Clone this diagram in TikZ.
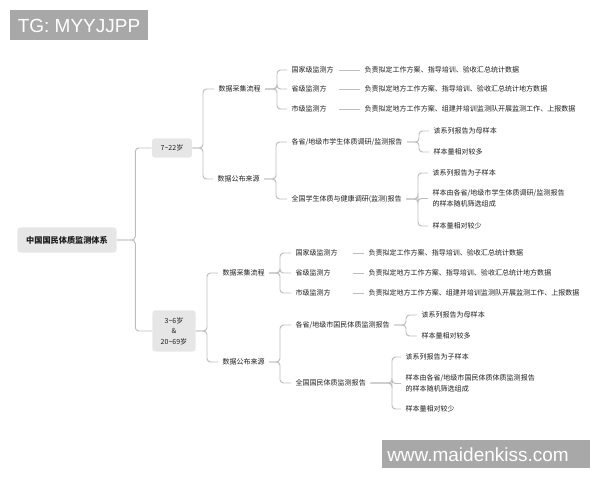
\documentclass[tikz,border=0pt]{standalone}
\usepackage{fontspec}
\setmainfont{Noto Sans CJK SC}
\newfontfamily\markfont{Liberation Sans}
\definecolor{linegray}{HTML}{BDBDBD}
\definecolor{boxgray}{HTML}{E6E6E6}
\definecolor{textgray}{HTML}{1E1E1E}
\definecolor{markgray}{HTML}{A8A8A8}
\tikzset{
  link/.style={draw=linegray,line width=0.7pt,rounded corners=2.5pt},
  topic/.style={fill=boxgray,rounded corners=2pt,text=textgray,inner sep=0pt,
    align=center,font=\fontsize{5}{7.5}\selectfont},
  leaf/.style={anchor=west,inner xsep=3pt,inner ysep=1pt,text=textgray,
    align=left,font=\fontsize{5}{7.8}\selectfont},
  wmark/.style={text=white,inner sep=0pt,font=\markfont\fontsize{13.5}{14}\selectfont},
}

\begin{document}
\begin{tikzpicture}[x=0.025cm,y=-0.025cm]
  \useasboundingbox (0,0) rectangle (600,480);

  % watermarks
  \fill[markgray] (10,10) rectangle (148,40);
  \node[wmark] (tg) at (79,25.5) {TG: MYYJJPP};
  \fill[markgray] (382,440) rectangle (590,468);
  \node[wmark] (site) at (478,454.5) {www.maidenkiss.com};

  % root and age groups
  \node[topic,minimum width=2.475cm,minimum height=0.625cm,
    font=\fontsize{5.8}{7}\selectfont\bfseries] (root) at (67,240) {中国国民体质监测体系};
  \node[topic,minimum width=1cm,minimum height=0.475cm] (age1) at (172,148) {7\textasciitilde22岁};
  \node[topic,minimum width=1.075cm,minimum height=1.025cm] (age2) at (174,331)
    {3\textasciitilde6岁\\\&\\20\textasciitilde69岁};
  \foreach \k in {age1,age2}
    \draw[link] (root.east) -- ++(18.5,0) |- (\k.west);

  % 7~22
  \node[leaf] (c1) at (214,89) {数据采集流程};
  \node[leaf] (c2) at (213,179) {数据公布来源};
  \coordinate (a1bus) at (203,148);
  \foreach \k in {c1,c2}
    \draw[link] (age1.east) -- (a1bus) |- (\k.west);

  \node[leaf,text width=30.4pt] (g1) at (287,70) {国家级监测方};
  \node[leaf,text width=30.4pt] (g2) at (287,89) {省级监测方};
  \node[leaf,text width=30.4pt] (g3) at (287,109) {市级监测方};
  \node[leaf] (d1) at (360,70) {负责拟定工作方案、指导培训、验收汇总统计数据};
  \node[leaf] (d2) at (360,89) {负责拟定地方工作方案、指导培训、验收汇总统计地方数据};
  \node[leaf] (d3) at (360,109) {负责拟定地方工作方案、组建并培训监测队开展监测工作、上报数据};
  \coordinate (c1bus) at (277,89);
  \foreach \i in {1,2,3} {
    \draw[link] (c1.east) -- (c1bus) |- (g\i.west);
    \draw[link] (g\i.east) -- (d\i.west);
  }

  \node[leaf] (r1) at (287,142) {各省/地级市学生体质调研/监测报告};
  \node[leaf] (r2) at (287,199) {全国学生体质与健康调研(监测)报告};
  \coordinate (c2bus) at (276,179);
  \foreach \k in {r1,r2}
    \draw[link] (c2.east) -- (c2bus) |- (\k.west);

  \node[leaf] (s1) at (429,131) {该系列报告为母样本};
  \node[leaf] (s2) at (429,152) {样本量相对较多};
  \coordinate (r1bus) at (419,142);
  \foreach \k in {s1,s2}
    \draw[link] (r1.east) -- (r1bus) |- (\k.west);

  \node[leaf] (t1) at (428,173) {该系列报告为子样本};
  \node[leaf] (t2) at (428,198.5) {样本由各省/地级市学生体质调研/监测报告\\的样本随机筛选组成};
  \node[leaf] (t3) at (428,226) {样本量相对较少};
  \coordinate (r2bus) at (418,199);
  \foreach \k in {t1,t2,t3}
    \draw[link] (r2.east) -- (r2bus) |- (\k.west);

  % 3~6 & 20~69
  \node[leaf] (e1) at (218,273) {数据采集流程};
  \node[leaf] (e2) at (218,362) {数据公布来源};
  \coordinate (a2bus) at (207,331);
  \foreach \k in {e1,e2}
    \draw[link] (age2.east) -- (a2bus) |- (\k.west);

  \node[leaf,text width=37.5pt] (h1) at (291,253) {国家级监测方};
  \node[leaf,text width=37.5pt] (h2) at (291,273) {省级监测方};
  \node[leaf,text width=37.5pt] (h3) at (291,293) {市级监测方};
  \node[leaf] (f1) at (364,253) {负责拟定工作方案、指导培训、验收汇总统计数据};
  \node[leaf] (f2) at (364,273) {负责拟定地方工作方案、指导培训、验收汇总统计地方数据};
  \node[leaf] (f3) at (364,293) {负责拟定地方工作方案、组建并培训监测队开展监测工作、上报数据};
  \coordinate (e1bus) at (280,273);
  \foreach \i in {1,2,3} {
    \draw[link] (e1.east) -- (e1bus) |- (h\i.west);
    \draw[link] (h\i.east) -- (f\i.west);
  }

  \node[leaf] (q1) at (291,325) {各省/地级市国民体质监测报告};
  \node[leaf] (q2) at (291,383) {全国国民体质监测报告};
  \coordinate (e2bus) at (280,362);
  \foreach \k in {q1,q2}
    \draw[link] (e2.east) -- (e2bus) |- (\k.west);

  \node[leaf] (u1) at (417,315) {该系列报告为母样本};
  \node[leaf] (u2) at (417,336) {样本量相对较多};
  \coordinate (q1bus) at (406,325);
  \foreach \k in {u1,u2}
    \draw[link] (q1.east) -- (q1bus) |- (\k.west);

  \node[leaf] (v1) at (401,357) {该系列报告为子样本};
  \node[leaf] (v2) at (401,383.5) {样本由各省/地级市国民体质体质监测报告\\的样本随机筛选组成};
  \node[leaf] (v3) at (401,409) {样本量相对较少};
  \coordinate (q2bus) at (392,383);
  \foreach \k in {v1,v2,v3}
    \draw[link] (q2.east) -- (q2bus) |- (\k.west);
\end{tikzpicture}
\end{document}
